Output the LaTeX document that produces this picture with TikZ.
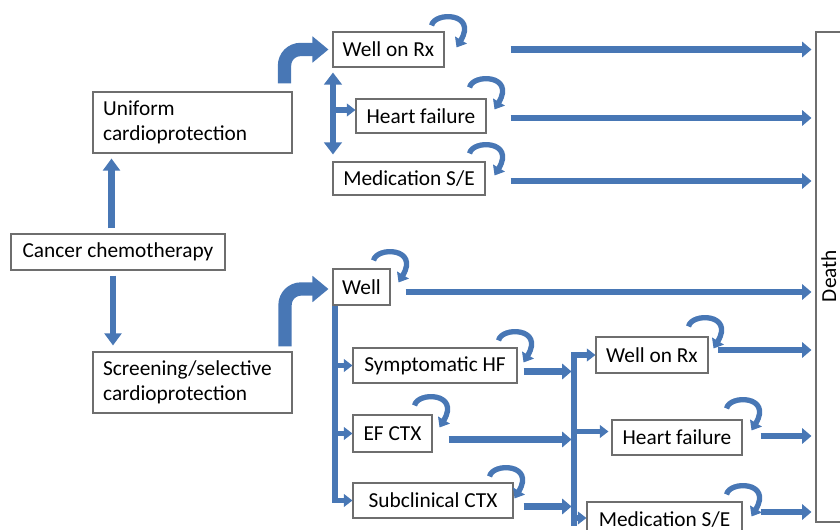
\documentclass[tikz,border=0pt]{standalone}
\usepackage{fontspec}
\setmainfont{Carlito}
\usetikzlibrary{arrows.meta,calc}
\definecolor{arr}{RGB}{72,119,181}
\definecolor{bord}{RGB}{110,110,110}
\tikzset{
  box/.style={draw=bord, line width=0.8pt, fill=white, inner sep=0pt,
    font=\fontsize{16}{19}\selectfont, align=center},
  harr/.style={draw=arr, line width=4.9pt, -{Triangle[width=11.5pt,length=7pt]}},
  bigarr/.style={draw=arr, line width=10pt, rounded corners=12pt, -{Triangle[width=19pt,length=12pt]}},
  vthin/.style={draw=arr, line width=5pt, -{Triangle[width=12.5pt,length=9pt]}},
  dblarr/.style={draw=arr, line width=4.5pt, {Triangle[width=13pt,length=9pt]}-{Triangle[width=13pt,length=9pt]}},
  branch/.style={draw=arr, line width=4pt, -{Triangle[width=9.5pt,length=6.5pt]}},
  barline/.style={draw=arr, line width=4.5pt},
  loopst/.style={draw=arr, line width=4pt, -{Triangle[width=10pt,length=6.5pt]}},
}
\newcommand\selfloop[3]{\begin{scope}[shift={(#1)},shift={(#2,#3)}]
  \draw[loopst] (0,0) .. controls (3,-14) and (46,-13) .. (25,22);
\end{scope}}
\begin{document}
\begin{tikzpicture}[x=0.75pt,y=-0.75pt]
\useasboundingbox (0,0) rectangle (840,530);

% boxes
\node[box, minimum width=160.5pt, minimum height=27pt] (chemo) at (118,252) {Cancer chemotherapy};
\node[box, minimum width=149.25pt, minimum height=45.75pt, text width=134pt, align=left] (uniform) at (192.5,122.5) {Uniform\\cardioprotection};
\node[box, minimum width=149.25pt, minimum height=45.75pt, text width=134pt, align=left] (screening) at (192.5,382.5) {Screening/selective\\cardioprotection};

\node[box, minimum width=83.25pt, minimum height=26.25pt] (wellrx1) at (388.5,49.5) {Well on Rx};
\node[box, minimum width=97.5pt, minimum height=25.5pt] (hf1) at (421,116) {Heart failure};
\node[box, minimum width=114pt, minimum height=24.75pt] (med1) at (409,178.5) {Medication S/E};

\node[box, minimum width=42.75pt, minimum height=27pt] (well) at (361.5,287) {Well};
\node[box, minimum width=123pt, minimum height=26.25pt] (shf) at (435,365.5) {Symptomatic HF};
\node[box, minimum width=59.25pt, minimum height=27.75pt] (efctx) at (392.5,433.5) {EF CTX};
\node[box, minimum width=120pt, minimum height=26.25pt] (subctx) at (433,500.5) {Subclinical CTX};

\node[box, minimum width=84pt, minimum height=27pt] (wellrx2) at (652,355) {Well on Rx};
\node[box, minimum width=97.5pt, minimum height=26.25pt] (hf2) at (677,437.5) {Heart failure};
\node[box, minimum width=116.25pt, minimum height=26.25pt] (med2) at (664.5,519.5) {Medication S/E};

\node[box, minimum width=40.5pt, minimum height=367.5pt] (death) at (843,277) {};
\node[rotate=90, anchor=base, inner sep=0pt, font=\fontsize{16}{19}\selectfont] (deathlabel) at (836,276) {Death};

% chemotherapy arrows
\draw[vthin] ($(chemo.north)+(-6.5,-5)$) coordinate (u1) -- ($(u1 |- uniform.south)+(0,5)$);
\draw[vthin] ($(chemo.south)+(-5,5)$) coordinate (d1) -- ($(d1 |- screening.north)+(0,-6)$);

% bent arrows
\draw[bigarr] ($(uniform.north east)+(-8,-8)$) |- ($(wellrx1.west)+(-4,0)$);
\draw[bigarr] ($(screening.north east)+(-7.5,-5)$) |- ($(well.west)+(-4,2)$);

% upper branch
\draw[dblarr] ($(wellrx1.south west)+(0.5,5)$) coordinate (v1) -- ($(v1 |- med1.north)+(0,-7)$);
\draw[branch] ($(v1 |- hf1.west)+(0,-6)$) -- ($(hf1.west)+(0,-6)$);

% lower left branch
\draw[barline] ($(well.south west)+(2.5,0)$) coordinate (v2) -- ($(v2 |- subctx.west)+(0,3)$);
\draw[branch] (v2 |- shf.west) -- (shf.west);
\draw[branch] (v2 |- efctx.west) -- (efctx.west);
\draw[branch] (v2 |- subctx.west) -- (subctx.west);

% right collecting bar
\coordinate (rb) at (573.5,0);
\draw[barline] ($(rb |- wellrx2.west)+(0,-2.5)$) -- ($(rb |- med2.west)+(0,7)$);
\draw[harr] ($(shf.east)+(6,6)$) coordinate (s1) -- ($(s1 -| rb)+(-2,0)$);
\draw[harr] ($(efctx.east)+(16,6)$) coordinate (s2) -- ($(s2 -| rb)+(-2,0)$);
\draw[harr] ($(subctx.east)+(10,6)$) coordinate (s3) -- ($(s3 -| rb)+(-2,0)$);
\draw[branch] (rb |- wellrx2.west) -- (wellrx2.west);
\draw[branch] ($(rb |- hf2.west)+(0,-6)$) -- ($(hf2.west)+(-3,-6)$);
\draw[branch] ($(rb |- med2.west)+(0,-1.5)$) -- ($(med2.west)+(0,-1.5)$);

% arrows to death
\draw[harr] ($(wellrx1.east)+(66,0)$) coordinate (t1) -- ($(t1 -| death.west)+(-4,0)$);
\draw[harr] ($(hf1.east)+(24,2)$) coordinate (t2) -- ($(t2 -| death.west)+(-4,0)$);
\draw[harr] ($(med1.east)+(25,2.5)$) coordinate (t3) -- ($(t3 -| death.west)+(-4,0)$);
\draw[harr] ($(well.east)+(15,5)$) coordinate (t4) -- ($(t4 -| death.west)+(-4,0)$);
\draw[harr] ($(wellrx2.east)+(9,-5)$) coordinate (t5) -- ($(t5 -| death.west)+(-4,0)$);
\draw[harr] ($(hf2.east)+(18,-1.5)$) coordinate (t6) -- ($(t6 -| death.west)+(-4,0)$);
\draw[harr] ($(med2.east)+(18,-7.5)$) coordinate (t7) -- ($(t7 -| death.west)+(-4,0)$);

% self loops
\selfloop{wellrx1.north east}{-13}{-6}
\selfloop{hf1.north east}{-17}{-11}
\selfloop{med1.north east}{-16}{-8}
\selfloop{well.north east}{-17}{-8}
\selfloop{shf.north east}{-19}{-7}
\selfloop{efctx.north east}{-18}{-9}
\selfloop{subctx.north east}{-24}{-6}
\selfloop{wellrx2.north east}{-20}{-10}
\selfloop{hf2.north east}{-16}{-11}
\selfloop{med2.north east}{-16}{-7}
\end{tikzpicture}
\end{document}
